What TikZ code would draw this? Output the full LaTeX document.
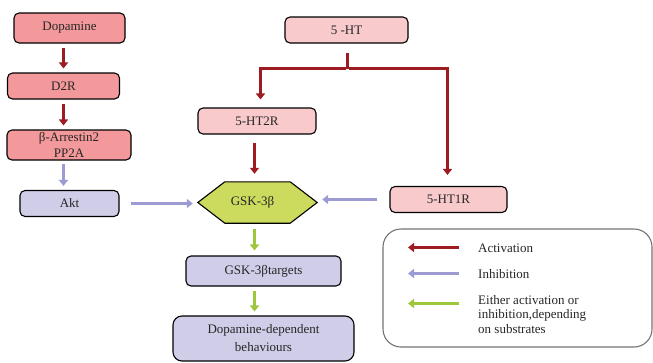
\documentclass[tikz,border=0pt]{standalone}
\usepackage{fontspec}
\setmainfont{Liberation Serif}
\usetikzlibrary{arrows.meta}
\definecolor{salmon}{HTML}{F4999B}
\definecolor{pinkl}{HTML}{F9CACC}
\definecolor{lavf}{HTML}{CFCDE8}
\definecolor{hexg}{HTML}{CCDB5E}
\definecolor{actc}{HTML}{9E1B22}
\definecolor{inhc}{HTML}{9C9BD3}
\definecolor{eitc}{HTML}{9DC73C}
\tikzset{
  boxbase/.style={draw=black, line width=1.1pt, rounded corners=5pt, inner sep=0pt, align=center,
    font=\fontsize{13}{16}\selectfont, text=black!85},
  dbox/.style={boxbase, fill=salmon},
  pbox/.style={boxbase, fill=pinkl},
  lbox/.style={boxbase, fill=lavf},
  arr/.style={line width=3.1pt, -{Triangle[length=6pt,width=9pt]}},
  act/.style={arr, draw=actc},
  inh/.style={arr, draw=inhc},
  eit/.style={arr, draw=eitc},
  legtext/.style={anchor=west, inner sep=0pt, align=left, font=\fontsize{13}{14.5}\selectfont, text=black!85},
}
\begin{document}
\begin{tikzpicture}[x=1pt,y=-1pt]
\useasboundingbox (0,0) rectangle (653,362);
% left column
\node[dbox, minimum width=111pt, minimum height=30pt] (dop) at (69.5,28) {Dopamine};
\node[dbox, minimum width=112pt, minimum height=26pt] (d2r) at (63.5,86) {D2R};
\node[dbox, minimum width=124pt, minimum height=30pt] (arrb) at (69,145) {β-Arrestin2\\PP2A};
\node[lbox, minimum width=99pt, minimum height=26pt] (akt) at (69.5,203.5) {Akt};
% serotonin
\node[pbox, minimum width=123pt, minimum height=26pt] (hts) at (346.5,30) {5 -HT};
\node[pbox, minimum width=118pt, minimum height=26pt] (ht2r) at (257,121) {5-HT2R};
\node[pbox, minimum width=117pt, minimum height=26pt] (ht1r) at (448.5,199.5) {5-HT1R};
\coordinate (br) at (347.5,68.5);
% GSK hexagon
\node[minimum width=119pt, minimum height=41pt, inner sep=0pt] (gsk) at (257.5,202.5) {};
\draw[fill=hexg, line width=1.1pt, line join=miter]
  (gsk.west) -- ([xshift=27pt]gsk.north west) -- ([xshift=-27pt]gsk.north east)
  -- (gsk.east) -- ([xshift=-27pt]gsk.south east) -- ([xshift=27pt]gsk.south west) -- cycle;
\node[font=\fontsize{13}{16}\selectfont, text=black!85] at ([xshift=-5pt]gsk.center) {GSK-3β};
% lower
\node[lbox, minimum width=155pt, minimum height=30pt] (tgt) at (263.5,271) {GSK-3βtargets};
\node[lbox, minimum width=181pt, minimum height=45pt, rounded corners=9pt, font=\fontsize{13}{18}\selectfont] (beh) at (263.5,338.5) {Dopamine-dependent\\behaviours};
% connectors
\draw[act, shorten <=4pt, shorten >=4pt] (d2r.north |- dop.south) -- (d2r.north);
\draw[act, shorten <=4pt, shorten >=4pt] (d2r.south) -- (d2r.south |- arrb.north);
\draw[inh, shorten <=3pt, shorten >=4pt] (d2r.south |- arrb.south) -- (d2r.south |- akt.north);
\draw[inh, shorten <=11pt, shorten >=5pt] (akt.east) -- (gsk.west |- akt.east);
\draw[actc, line width=3.1pt, shorten <=9pt] (hts.south -| br) -- (br);
\draw[act, shorten >=8pt] ([xshift=-1.5pt]br) -| ([xshift=3.5pt]ht2r.north);
\draw[act, shorten >=11pt] ([xshift=1.5pt]br) -| ([xshift=-1pt]ht1r.north);
\draw[act, shorten <=8pt, shorten >=8pt] ([xshift=-2.5pt]ht2r.south) -- ([xshift=-2.5pt]ht2r.south |- gsk.north);
\draw[inh, shorten <=12pt, shorten >=5pt] (ht1r.west) -- (gsk.east |- ht1r.west);
\draw[eit, shorten <=6pt, shorten >=5pt] ([xshift=-3pt]gsk.south) -- ([xshift=-3pt]gsk.south |- tgt.north);
\draw[eit, shorten <=4pt, shorten >=4pt] ([xshift=-9pt]tgt.south) -- ([xshift=-9pt]tgt.south |- beh.north);
% legend
\node[draw=black!55, line width=1.1pt, rounded corners=18pt, minimum width=269pt, minimum height=118pt] (leg) at (517.5,288) {};
\coordinate (a1) at (459,247.5); \coordinate (a1e) at (408,247.5);
\coordinate (a2) at (459,273.5); \coordinate (a2e) at (408,273.5);
\coordinate (a3) at (459,303.5); \coordinate (a3e) at (408,303.5);
\draw[act] (a1) -- (a1e);
\draw[inh] (a2) -- (a2e);
\draw[eit] (a3) -- (a3e);
\node[legtext] (l1) at (478,248) {Activation};
\node[legtext] (l2) at (478,274) {Inhibition};
\node[legtext] (l3) at (478,314.5) {Either activation or\\inhibition,depending\\on substrates};
\end{tikzpicture}
\end{document}
